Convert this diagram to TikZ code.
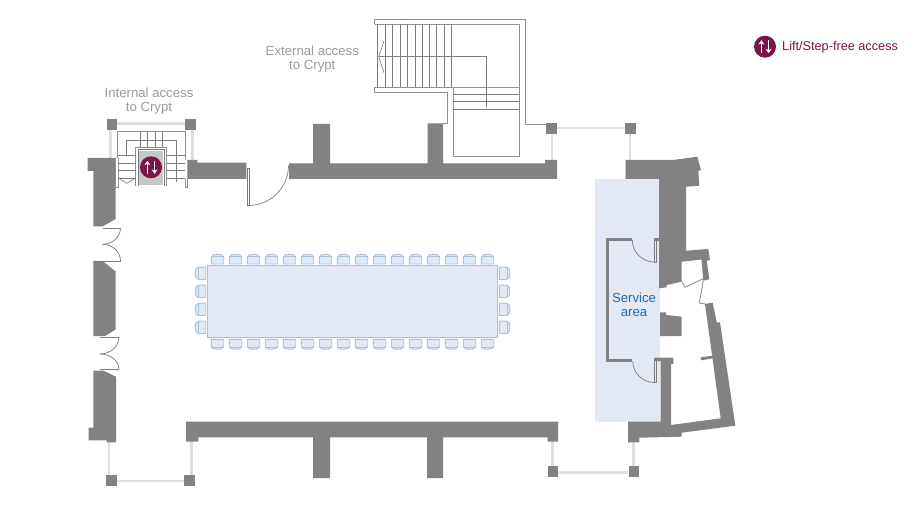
\documentclass[tikz,border=0pt]{standalone}
\usepackage{fontspec}
\setmainfont{Liberation Sans}
\usetikzlibrary{arrows.meta}
\definecolor{wallc}{HTML}{828282}
\definecolor{lightw}{HTML}{DEDEDE}
\definecolor{stairc}{HTML}{7C7C7C}
\definecolor{paleblue}{HTML}{E3E8F5}
\definecolor{chairc}{HTML}{A6C4E0}
\definecolor{plum}{HTML}{7A1548}
\definecolor{greytext}{HTML}{9A9A9A}
\definecolor{bluetext}{HTML}{1F6EA8}
\tikzset{
  wall/.style={fill=wallc,draw=none},
  window/.style={draw=lightw,line width=2.6pt},
  stair/.style={draw=stairc,line width=0.6pt},
  stairpale/.style={draw=stairc!85,line width=0.9pt},
  doorleaf/.style={draw=stairc,line width=0.7pt},
  chairshape/.style={draw=chairc,fill=paleblue,line width=0.9pt},
  plan/.style={font=\fontsize{13.2}{14}\selectfont,align=center,text=greytext,inner sep=0pt},
  liftdisc/.style={circle,fill=plum,draw=none,minimum size=22pt,inner sep=0pt},
  liftarrow/.style={draw=white,line width=1.6pt,-{Stealth[length=4.4pt,width=6pt]}}
}
\newcommand{\liftsign}[3]{%
  \node[liftdisc] (#1) at (#2,#3) {};
  \draw[liftarrow] (#2-3.6,#3+6.5) -- (#2-3.6,#3-6.5);
  \draw[liftarrow] (#2+3.6,#3-6.5) -- (#2+3.6,#3+6.5);
}
\newcommand{\postsq}[2]{\fill[wallc] (#1,#2) rectangle +(10.8,10.8);}
\begin{document}
\begin{tikzpicture}[x=1pt,y=-1pt]
\useasboundingbox (0,0) rectangle (920,510);
\fill[white] (0,0) rectangle (920,510);

% pale service band
\fill[paleblue] (595,179) rectangle (660,421.5);

% light window lines
\draw[window] (112,123.5) -- (190,123.5);
\draw[window] (110.7,129) -- (110.7,158);
\draw[window] (192.3,129) -- (192.3,160);
\draw[window] (552,134) -- (552,160);
\draw[window] (557,128) -- (625,128);
\draw[window] (630,134) -- (630,160);
\draw[window] (109,442) -- (109,475);
\draw[window] (191.3,441) -- (191.3,475);
\draw[window] (116,481) -- (185,481);
\draw[window] (552.5,441) -- (552.5,466);
\draw[window] (633.3,442) -- (633.3,466);
\draw[window] (558,472.7) -- (628,472.7);

% posts
\postsq{106.6}{119}
\postsq{185.2}{119}
\postsq{546}{123.3}
\postsq{625}{123.3}
\postsq{106}{475}
\postsq{184.3}{475}
\postsq{547.5}{466.3}
\postsq{628.6}{466.3}

% left wall
\fill[wall] (87.5,158) -- (115.6,158) -- (115.6,219) -- (102.5,226.5) -- (93.4,226.5) -- (93.4,171) -- (87.5,171) -- cycle;
\fill[wall] (93.4,261) -- (102.7,261) -- (115.6,271.5) -- (115.6,329.5) -- (105,336) -- (93.4,336) -- cycle;
\fill[wall] (93.4,370.7) -- (103.3,370.7) -- (116,376.7) -- (116,442.3) -- (106.7,442.3) -- (106.7,440.3) -- (88.7,440.3) -- (88.7,427.7) -- (93.4,427.7) -- cycle;

% top wall
\fill[wall] (187.3,160) -- (197.3,160) -- (197.3,162.7) -- (246.3,162.7) -- (246.3,179) -- (187.3,179) -- cycle;
\fill[wall] (289,163.3) -- (313,163.3) -- (313,124) -- (330,124) -- (330,163.3) -- (427.7,163.3) -- (427.7,123.5) -- (443,123.5) -- (443,163.3) -- (545,163.3) -- (545,160) -- (557,160) -- (557,179) -- (289,179) -- cycle;

% bottom wall
\fill[wall] (186,421.7) -- (558,421.7) -- (558,441.5) -- (547.5,441.5) -- (547.5,437.3) -- (443,437.3) -- (443,478) -- (427,478) -- (427,437.3) -- (330,437.3) -- (330,478) -- (313,478) -- (313,437.3) -- (198.3,437.3) -- (198.3,441.7) -- (186,441.7) -- cycle;

% right wall, upper
\fill[wall] (625.7,160) -- (673.3,160) -- (697.3,156.7) -- (701,170) -- (698.3,170.7) -- (699.3,185.7) -- (686,186.7) -- (686,250.7) -- (708.3,249) -- (710,260) -- (706.7,260.7) -- (709.3,279.3) -- (703.3,280.7) -- (701.5,259.5) -- (681.7,261.7) -- (681.7,281.7) -- (666.7,285) -- (666.7,287.3) -- (659,288.3) -- (659,179) -- (625.7,179) -- cycle;
\draw[stairpale] (685,287.3) -- (704,278.3);
\draw[stairpale] (681.7,281.7) -- (685,287.3);
\draw[stairpale] (703.3,280.7) -- (699.3,303) -- (705,304);

% right wall, lower
\fill[wall] (705,304) -- (712.7,302.7) -- (716.7,322.3) -- (720,322.3) -- (735.3,425.7) -- (681.7,432.7) -- (681.7,436.7) -- (639.3,437.7) -- (639.3,442.3) -- (628,442.3) -- (628,421.7) -- (660.7,421.7) -- (660.7,364) -- (660.7,361) -- (655,361) -- (655,357.7) -- (673.3,357.7) -- (673.3,364) -- (671,364) -- (671,425) -- (720.7,418.3) -- cycle;
\fill[wall] (700.7,357.3) -- (712.7,355.7) -- (713.3,358.3) -- (701,360.3) -- cycle;
\fill[wall] (660,312.3) -- (666,312.3) -- (666,315) -- (681.7,316.7) -- (681.7,336) -- (660,336) -- cycle;

% service room
\draw[draw=wallc,line width=3.4pt] (632,239.8) -- (607.4,239.8) -- (607.4,360.6) -- (632,360.6);
\fill[wall] (654,238.3) rectangle (659.5,241.5);
\draw[doorleaf] (632.3,240) arc[start angle=180,end angle=90,radius=22];
\draw[doorleaf] (654,241) -- (654,262) -- (656,262) -- (656,241);
\fill[wall] (654,357.7) rectangle (660,361);
\draw[doorleaf] (632.8,361) arc[start angle=180,end angle=90,radius=21.5];
\draw[doorleaf] (654,361) -- (654,382.5) -- (656,382.5) -- (656,361);

% doors
\draw[doorleaf] (247.6,168.3) -- (247.6,205.5) -- (249.8,205.5) -- (249.8,168.3) -- cycle;
\draw[doorleaf] (248.5,205.5) arc[start angle=90,end angle=0,radius=40];
\draw[doorleaf] (102.5,228) -- (120.5,228);
\draw[doorleaf] (120.5,228) arc[start angle=0,end angle=90,x radius=18,y radius=16.3];
\draw[doorleaf] (102.5,261) -- (120.5,261);
\draw[doorleaf] (120.5,261) arc[start angle=0,end angle=-90,x radius=18,y radius=16.7];
\draw[doorleaf] (100,337) -- (119,337);
\draw[doorleaf] (119,337) arc[start angle=0,end angle=90,x radius=19,y radius=17];
\draw[doorleaf] (100,369.5) -- (119,369.5);
\draw[doorleaf] (119,369.5) arc[start angle=0,end angle=-90,x radius=19,y radius=15.5];

% external stair
\draw[stairpale] (374.5,24) -- (374.5,19.3) -- (525.7,19.3) -- (525.7,124.3) -- (546,124.3);
\draw[stairpale] (374.5,24) -- (519,24) -- (519,156.7) -- (453.3,156.7) -- (453.3,87.3);
\draw[stairpale] (374.5,87.3) -- (519,87.3);
\draw[stairpale] (374.5,87.3) -- (374.5,92.3) -- (447.3,92.3) -- (447.3,123.7) -- (443,123.7);
\draw[stair] (377.3,24) -- (377.3,87.3);
\foreach \sx in {385,392.7,400,407.3,415,422.3,429.3,436.7,444,451.3}
  \draw[stair] (\sx,24) -- (\sx,87.3);
\foreach \sy in {94.3,101.7,109.3}
  \draw[stair] (453.3,\sy) -- (519,\sy);
\draw[stair] (379.3,56) -- (486.3,56) -- (486.3,107.3);
\draw[stair] (384,40.7) -- (378.7,56.7) -- (384,72.7);

% internal stair
\draw[stairpale] (117.3,158) -- (117.3,131.7) -- (185.3,131.7) -- (185.3,160);
\draw[stairpale] (115.9,158) -- (115.9,187.3) -- (118.6,187.3) -- (118.6,158);
\draw[stairpale] (185.3,179) -- (185.3,187.3) -- (187.3,187.3) -- (187.3,179);
\fill[lightw!90!black] (139.3,150.7) rectangle (163.3,185);
\draw[stairpale] (135.7,185.7) -- (135.7,147.3) -- (166.7,147.3) -- (166.7,185.7);
\draw[stair] (138,185.7) -- (138,149.5) -- (164.5,149.5) -- (164.5,185.7);
\draw[stair] (126.7,155) -- (126.7,140) -- (176,140) -- (176,181.7);
\foreach \sx in {140,147.7,155,162.7}
  \draw[stair] (\sx,131.7) -- (\sx,147.3);
\foreach \sy in {155.7,163.3,170.7,178.3} {
  \draw[stair] (118,\sy) -- (135.7,\sy);
  \draw[stair] (166.7,\sy) -- (185.3,\sy);
}
\draw[stair] (120,179) -- (126.7,183.3) -- (134.3,179);
\liftsign{liftplan}{151}{167.3}

% table
\fill[paleblue,draw=chairc,line width=0.8pt] (207.5,265.7) rectangle (497.5,337.3);
\foreach \i in {0,...,15} {
  \pgfmathsetmacro{\cx}{217.5+18*\i}
  \draw[chairshape] (\cx-6.2,264) -- (\cx-6.2,257.5) .. controls (\cx-6.2,254.7) and (\cx-3,254.3) .. (\cx,254.3) .. controls (\cx+3,254.3) and (\cx+6.2,254.7) .. (\cx+6.2,257.5) -- (\cx+6.2,264) -- cycle;
  \draw[draw=chairc,line width=0.6pt] (\cx-6.2,256.8) -- (\cx+6.2,256.8);
  \draw[chairshape] (\cx-6.2,339.3) -- (\cx-6.2,346) .. controls (\cx-6.2,348.8) and (\cx-3,349.3) .. (\cx,349.3) .. controls (\cx+3,349.3) and (\cx+6.2,348.8) .. (\cx+6.2,346) -- (\cx+6.2,339.3) -- cycle;
  \draw[draw=chairc,line width=0.6pt] (\cx-6.2,346.8) -- (\cx+6.2,346.8);
}
\foreach \cy in {273.3,291.3,309.3,327.3} {
  \draw[chairshape] (205.7,\cy-6.2) -- (198.5,\cy-6.2) .. controls (195.7,\cy-6.2) and (195.2,\cy-3) .. (195.2,\cy) .. controls (195.2,\cy+3) and (195.7,\cy+6.2) .. (198.5,\cy+6.2) -- (205.7,\cy+6.2) -- cycle;
  \draw[draw=chairc,line width=0.6pt] (197.8,\cy-6.2) -- (197.8,\cy+6.2);
  \draw[chairshape] (499.3,\cy-6.2) -- (506.5,\cy-6.2) .. controls (509.3,\cy-6.2) and (509.8,\cy-3) .. (509.8,\cy) .. controls (509.8,\cy+3) and (509.3,\cy+6.2) .. (506.5,\cy+6.2) -- (499.3,\cy+6.2) -- cycle;
  \draw[draw=chairc,line width=0.6pt] (507.2,\cy-6.2) -- (507.2,\cy+6.2);
}

% labels
\node[plan] (extlabel) at (312.3,59.3) {External access\\to Crypt};
\node[plan] (intlabel) at (149,101.3) {Internal access\\to Crypt};
\node[plan,text=bluetext] (servicelabel) at (634,305) {Service\\area};
\liftsign{liftlegend}{765}{46.7}
\node[plan,anchor=west,text=plum,font=\fontsize{12.7}{14}\selectfont] (legendtext) at (782,47) {Lift/Step-free access};
\end{tikzpicture}
\end{document}
